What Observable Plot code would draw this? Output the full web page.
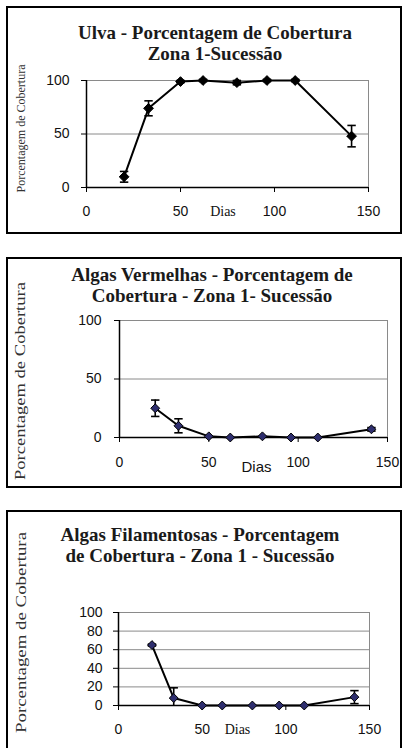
<!DOCTYPE html>
<html>
<head>
<meta charset="utf-8">
<script src="https://cdn.jsdelivr.net/npm/d3@7"></script>
<script src="https://cdn.jsdelivr.net/npm/@observablehq/plot@0.6"></script>
<style>
  html, body { margin: 0; padding: 0; background: #fff; }
  #page { position: relative; width: 403px; height: 748px; overflow: hidden; background: #fff; }
  .box { position: absolute; border: 2px solid #000; box-sizing: border-box; }
  .title { position: absolute; width: 400px; text-align: center; font-family: "Liberation Serif", "Times New Roman", serif; font-weight: bold; font-size: 19px; line-height: 21px; color: #1a1a1a; }
  #overlay { position: absolute; left: 0; top: 0; pointer-events: none; }
</style>
</head>
<body>
<div id="page"></div>
<script>
// ---- data ----
const days = [20, 33, 50, 62, 80, 96, 111, 141];
const ulva = [10, 74, 99, 100, 98, 100, 100, 48];
const ulvaErr = [5, 7, 1, 1, 2, 1, 1, 10];
const vermelhas = [25, 10, 1, 0, 1, 0, 0, 7];
const vermelhasErr = [7, 6, 0, 0, 0, 0, 0, 1.5];
const filamentosas = [65, 8, 0, 0, 0, 0, 0, 9];
const filamentosasErr = [1, 11, 0, 0, 0, 0, 0, 7];
const xTicks = [0, 50, 100, 150];
const yTicks12 = [0, 50, 100];
const yTicks3 = [0, 20, 40, 60, 80, 100];
const titles = [
  ["Ulva - Porcentagem de Cobertura", "Zona 1-Sucessão"],
  ["Algas Vermelhas - Porcentagem de", "Cobertura - Zona 1- Sucessão"],
  ["Algas Filamentosas - Porcentagem", "de Cobertura - Zona 1 - Sucessão"]
];
const yTitle = "Porcentagem de Cobertura";
const xTitle = "Dias";

const page = document.getElementById("page");

const cap = {
  draw(context, size) {
    const w = Math.sqrt(size / Math.PI);
    context.moveTo(-w, 0);
    context.lineTo(w, 0);
  }
};

function panel(cfg) {
  const box = document.createElement("div");
  box.className = "box";
  Object.assign(box.style, {left: "6px", top: cfg.boxTop + "px", width: "396px", height: cfg.boxH + "px"});
  page.appendChild(box);

  const t = document.createElement("div");
  t.className = "title";
  t.style.left = (cfg.titleCx - 200) + "px";
  t.style.top = cfg.titleTop + "px";
  t.innerHTML = cfg.title.join("<br>");
  page.appendChild(t);

  const rows = days.map((d, i) => ({day: d, v: cfg.vals[i], e: cfg.errs[i]}));
  const errRows = rows.filter(d => d.e > 0);

  const svg = Plot.plot({
    width: 403,
    height: cfg.h,
    marginTop: cfg.mt, marginBottom: cfg.mb, marginLeft: cfg.ml, marginRight: cfg.mr,
    style: {fontFamily: "'Liberation Sans', Arial, sans-serif", fontSize: "14px", color: "#000", background: "transparent", overflow: "visible"},
    x: {domain: [0, 150], ticks: xTicks},
    y: {domain: [0, 100], ticks: cfg.yTicks},
    marks: [
      Plot.gridY(cfg.yTicks.filter(v => v > 0), {stroke: "#8a8a8a", strokeOpacity: 1, strokeWidth: 1}),
      Plot.frame({stroke: "#8a8a8a", strokeWidth: 1}),
      Plot.axisY({ticks: cfg.yTicks, tickSize: 5, tickPadding: cfg.ytp, label: null, stroke: "#000", fill: "#111"}),
      Plot.axisX({ticks: xTicks, tickSize: 5, tickPadding: cfg.xtp, label: null, stroke: "#000", fill: "#111"}),
      Plot.ruleX([0], {stroke: "#000", strokeWidth: 1.5}),
      Plot.ruleY([0], {stroke: "#000", strokeWidth: 1.5}),
      Plot.line(rows, {x: "day", y: "v", stroke: "#000", strokeWidth: 2}),
      Plot.ruleX(errRows, {x: "day", y1: d => d.v - d.e, y2: d => d.v + d.e, stroke: "#000", strokeWidth: 1.6, clip: true}),
      Plot.dot(errRows, {x: "day", y: d => d.v + d.e, symbol: cap, r: 4.2, stroke: "#000", strokeWidth: 1.6, fill: "none"}),
      Plot.dot(errRows.filter(d => d.v - d.e >= 0), {x: "day", y: d => d.v - d.e, symbol: cap, r: 4.2, stroke: "#000", strokeWidth: 1.6, fill: "none"}),
      Plot.dot(rows, {x: "day", y: "v", symbol: "diamond2", r: cfg.r, fill: cfg.fill, stroke: "#000", strokeWidth: 1})
    ]
  });
  svg.style.position = "absolute";
  svg.style.left = "0px";
  svg.style.top = cfg.top + "px";
  svg.style.maxWidth = "none";
  page.appendChild(svg);
}

panel({title: titles[0], boxTop: 6, boxH: 228, titleCx: 215, titleTop: 22,
  vals: ulva, errs: ulvaErr, yTicks: yTicks12, fill: "#000", r: 4.4,
  top: 60, h: 170, mt: 20, mb: 43, ml: 86, mr: 35, ytp: 12, xtp: 14});
panel({title: titles[1], boxTop: 257, boxH: 231, titleCx: 212, titleTop: 264,
  vals: vermelhas, errs: vermelhasErr, yTicks: yTicks12, fill: "#2e2e6e", r: 4,
  top: 300, h: 190, mt: 20, mb: 53, ml: 119, mr: 16, ytp: 13, xtp: 15});
panel({title: titles[2], boxTop: 510, boxH: 260, titleCx: 200, titleTop: 524,
  vals: filamentosas, errs: filamentosasErr, yTicks: yTicks3, fill: "#2e2e6e", r: 4,
  top: 590, h: 158, mt: 22, mb: 43, ml: 118, mr: 34, ytp: 11, xtp: 14});

// overlay texts: axis titles
const ov = d3.select(page).append("svg").attr("id", "overlay").attr("width", 403).attr("height", 748);
const yTitles = [
  {x: 20.5, y: 128.5, len: 128, size: 13},
  {x: 20.5, y: 381, len: 198, size: 14},
  {x: 21, y: 632.5, len: 201, size: 14}
];
yTitles.forEach(d => {
  ov.append("text")
    .attr("transform", `translate(${d.x},${d.y}) rotate(-90)`)
    .attr("text-anchor", "middle")
    .attr("dominant-baseline", "central")
    .attr("textLength", d.len)
    .attr("lengthAdjust", "spacingAndGlyphs")
    .style("font-family", "'Liberation Serif', 'Times New Roman', serif")
    .style("font-size", d.size + "px")
    .attr("fill", "#333")
    .text(yTitle);
});
const xTitles = [
  {x: 223, y: 211, serif: true},
  {x: 256.5, y: 466, serif: false},
  {x: 237.5, y: 729, serif: true}
];
xTitles.forEach(d => {
  ov.append("text")
    .attr("x", d.x).attr("y", d.y)
    .attr("text-anchor", "middle")
    .attr("dominant-baseline", "central")
    .style("font-family", d.serif ? "'Liberation Serif', 'Times New Roman', serif" : "'Liberation Sans', Arial, sans-serif")
    .style("font-size", d.serif ? "14px" : "15px")
    .attr("fill", "#111")
    .text(xTitle);
});
</script>
</body>
</html>
